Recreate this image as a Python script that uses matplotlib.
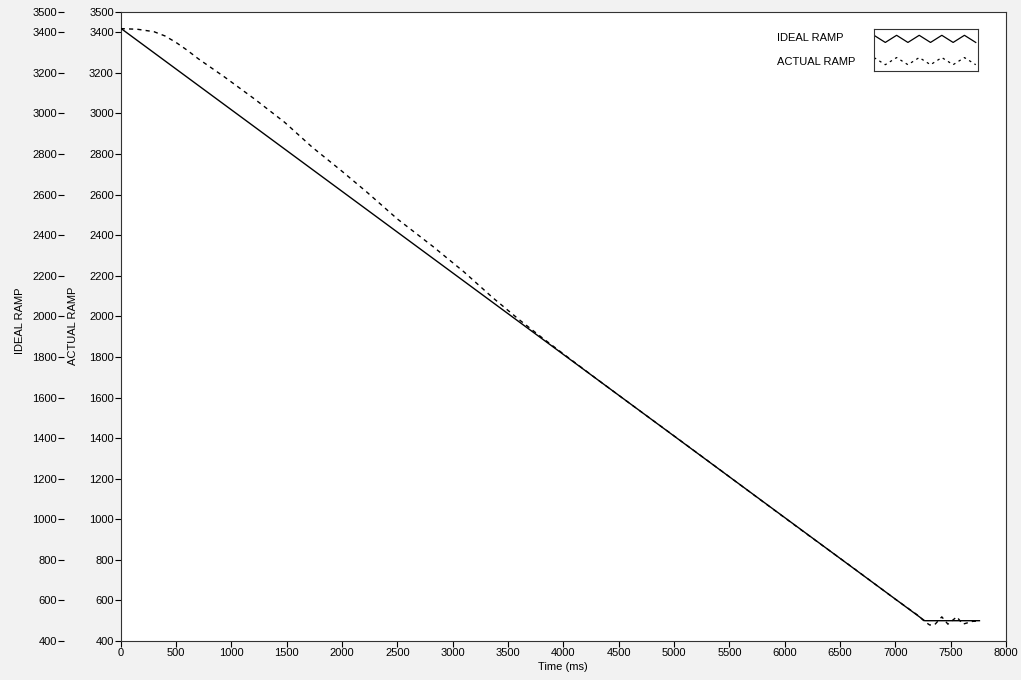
import numpy as np
import matplotlib
matplotlib.use('Agg')
import matplotlib.pyplot as plt

plt.rcParams['font.family'] = ['Liberation Sans', 'DejaVu Sans']
plt.rcParams['font.size'] = 8

# Ideal ramp (ms, value)
ideal_t = [0, 7265, 7760]
ideal_v = [3420, 500, 500]

# Actual ramp (ms, value)
actual_t = [0, 150, 300, 400, 500, 600, 700, 940, 1210, 1480, 1730, 2000, 2225, 2500,
            2820, 3100, 3360, 3600, 3800, 4000, 4300, 4600, 5000, 5400, 5800,
            6200, 6600, 7000, 7200, 7265, 7310, 7355, 7420, 7475, 7555, 7610,
            7700, 7760]
actual_v = [3418, 3415, 3403, 3382, 3350, 3312, 3270, 3179, 3071, 2957, 2834, 2715, 2612, 2480,
            2345, 2220, 2093, 1984, 1898, 1815, 1692, 1571, 1411, 1250, 1088,
            927, 768, 606, 528, 496, 479, 480, 519, 483, 519, 483,
            497, 498]

yticks = [400, 600, 800, 1000, 1200, 1400, 1600, 1800, 2000, 2200, 2400, 2600,
          2800, 3000, 3200, 3400, 3500]
xticks = np.arange(0, 8001, 500)

fig = plt.figure(figsize=(10.21, 6.8), dpi=100, facecolor='#f2f2f2')
ax = fig.add_axes([120.7 / 1021, 1 - 641 / 680, 885.3 / 1021, 629 / 680])
ax.set_facecolor('white')

ax.plot(actual_t, actual_v, color='black', lw=1.0, ls=(0, (3, 3)))
ax.set_xlim(0, 8000)
ax.set_ylim(400, 3500)
ax.set_xticks(xticks)
ax.set_yticks(yticks)
ax.tick_params(direction='out', length=4, width=0.8, pad=1, labelsize=8)
ax.set_xlabel('Time (ms)', labelpad=3)
ax.set_ylabel('ACTUAL RAMP')
ax.yaxis.set_label_coords((78 - 120.7) / 885.3, (641 - 326) / 629)
for s in ax.spines.values():
    s.set_linewidth(0.8)
    s.set_color('#333333')

# outer axis for the ideal ramp
ax2 = ax.twinx()
ax2.plot(ideal_t, ideal_v, color='black', lw=1.0)
ax2.set_ylim(400, 3500)
ax2.set_yticks(yticks)
ax2.yaxis.set_ticks_position('left')
ax2.yaxis.set_label_position('left')
ax2.spines['left'].set_position(('outward', 40.8))
for s in ax2.spines.values():
    s.set_visible(False)
ax2.tick_params(direction='out', length=4, width=0.8, pad=1, labelsize=8)
ax2.set_ylabel('IDEAL RAMP')
ax2.yaxis.set_label_coords((25 - 120.7) / 885.3, (641 - 321) / 629)

# legend
fig.text(777 / 1021, 1 - 38 / 680, 'IDEAL RAMP', va='center', ha='left')
fig.text(777 / 1021, 1 - 62 / 680, 'ACTUAL RAMP', va='center', ha='left')
lax = fig.add_axes([874 / 1021, 1 - 71 / 680, 104 / 1021, 42 / 680])
lax.set_xlim(0, 9.2)
lax.set_ylim(0, 1)
lax.set_xticks([])
lax.set_yticks([])
zx = np.arange(10)
zz = zx % 2
lax.plot(zx, 0.68 + 0.17 * (1 - zz), color='black', lw=0.9)
lax.plot(zx, 0.15 + 0.17 * (1 - zz), color='black', lw=0.9, ls=(0, (2, 3)))
for s in lax.spines.values():
    s.set_linewidth(0.8)
    s.set_color('#333333')

fig.savefig('out.png', dpi=100, facecolor=fig.get_facecolor())
